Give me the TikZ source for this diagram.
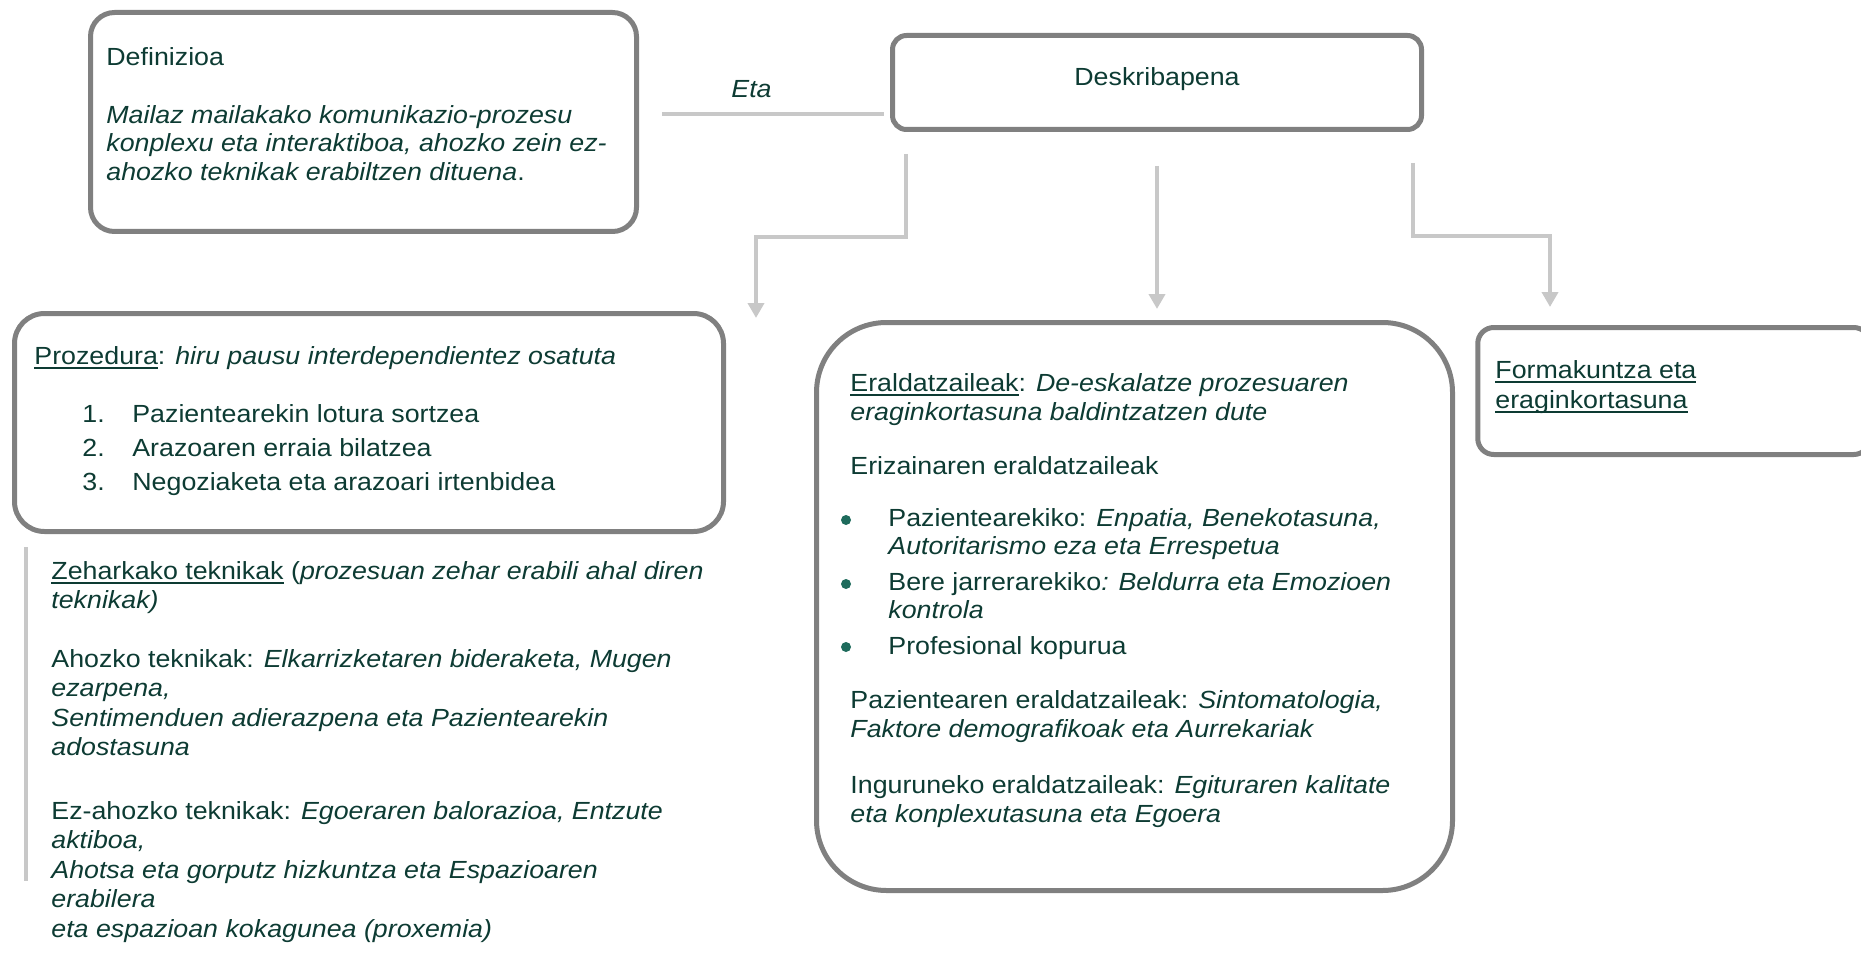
\documentclass[tikz,border=0pt]{standalone}
\usepackage{fontspec}
\setmainfont[FakeStretch=1.08]{Liberation Sans}
\usetikzlibrary{arrows.meta,positioning}
\definecolor{ink}{HTML}{0D3B33}
\definecolor{framegray}{HTML}{808080}
\definecolor{wiregray}{HTML}{C8C8C8}
\definecolor{dotgreen}{HTML}{1E6B5C}
\newcommand{\undl}[1]{\setbox0\hbox{#1}\rlap{\rule[-2.4pt]{\wd0}{0.9pt}}\box0\relax}

\begin{document}
\begin{tikzpicture}[x=0.5pt,y=-0.5pt,font=\fontsize{12.4}{14.5}\selectfont]
            \tikzstyle{frame box}=[draw=framegray,line width=2.5pt,inner sep=0]
            \tikzstyle{wire}=[draw=wiregray,line width=2pt]
            \tikzstyle{wire arrow}=[wire,-{Triangle[width=8pt,length=7.5pt]}]
            \tikzstyle{txt}=[inner sep=0,anchor=north west,align=left,text=ink]
            \tikzstyle{dot}=[circle,fill=dotgreen,inner sep=0,minimum size=5pt]
            \useasboundingbox (0,0) rectangle (1861,957);
            % boxes
            \node[frame box,rounded corners=12pt,minimum width=273pt,minimum height=109.5pt] (def) at (363.5,122) {};
            \node[frame box,rounded corners=7pt,minimum width=264.5pt,minimum height=47pt] (desk) at (1157,82.5) {};
            \node[frame box,rounded corners=15pt,minimum width=354.5pt,minimum height=109pt] (proz) at (369,422.5) {};
            \node[frame box,rounded corners=35pt,minimum width=318pt,minimum height=284pt] (eral) at (1134.5,606.5) {};
            \node[frame box,rounded corners=8pt,minimum width=196pt,minimum height=63.5pt] (form) at (1673.75,391) {};
            % Definizioa
            \node[txt] (defhead) at (106,47) {Definizioa};
            \node[txt,font=\fontsize{12.4}{14.25}\selectfont\itshape] (deftext) at (106,105)
              {Mailaz mailakako komunikazio-prozesu\\ konplexu eta interaktiboa, ahozko zein ez-\\ ahozko teknikak erabiltzen dituena{\upshape .}};
            \node[txt,font=\fontsize{12.4}{14.5}\selectfont\itshape] (eta) at (731,80) {Eta};
            \node[text=ink,anchor=base] (deskt) at (1157,86) {Deskribapena};
            % Prozedura
            \node[txt] (prozh) at (34,346) {\undl{Prozedura}: \textit{hiru pausu interdependientez osatuta}};
            \node[txt,font=\fontsize{12.4}{17}\selectfont] (steps) at (82,404)
              {\makebox[25pt][l]{1.}Pazientearekin lotura sortzea\\
               \makebox[25pt][l]{2.}Arazoaren erraia bilatzea\\
               \makebox[25pt][l]{3.}Negoziaketa eta arazoari irtenbidea};
            % Zeharkako teknikak
            \coordinate (zt) at (26,547);
            \coordinate (zb) at (26,881);
            \draw[wire] (zt) -- (zb);
            \node[txt,font=\fontsize{12.4}{14.75}\selectfont] (zeh) at (51,561)
              {\undl{Zeharkako teknikak} (\textit{prozesuan zehar erabili ahal diren}\\
               \textit{teknikak)}\\[14.5pt]
               Ahozko teknikak: \textit{Elkarrizketaren bideraketa, Mugen}\\
               \textit{ezarpena,}\\
               \textit{Sentimenduen adierazpena eta Pazientearekin}\\
               \textit{adostasuna}\\[17pt]
               Ez-ahozko teknikak: \textit{Egoeraren balorazioa, Entzute}\\
               \textit{aktiboa,}\\
               \textit{Ahotsa eta gorputz hizkuntza eta Espazioaren}\\
               \textit{erabilera}\\
               \textit{eta espazioan kokagunea (proxemia)}};
            % Eraldatzaileak
            \node[txt] (eralh) at (850,373)
              {\undl{Eraldatzaileak}: \textit{De-eskalatze prozesuaren}\\ \textit{eraginkortasuna baldintzatzen dute}};
            \node[txt] (eriz) at (850,456) {Erizainaren eraldatzaileak};
            \node[txt,font=\fontsize{12.4}{14}\selectfont] (items) at (888,508)
              {Pazientearekiko: \textit{Enpatia, Benekotasuna,}\\
               \textit{Autoritarismo eza eta Errespetua}\\[4pt]
               Bere jarrerarekiko\textit{: Beldurra eta Emozioen}\\
               \textit{kontrola}\\[4pt]
               Profesional kopurua};
            \node[dot] (d1) at (846,520) {};
            \node[dot] (d2) at (846,584) {};
            \node[dot] (d3) at (846,647) {};
            \node[txt] (paz) at (850,690)
              {Pazientearen eraldatzaileak: \textit{Sintomatologia,}\\ \textit{Faktore demografikoak eta Aurrekariak}};
            \node[txt] (ing) at (850,775)
              {Inguruneko eraldatzaileak: \textit{Egituraren kalitate}\\ \textit{eta konplexutasuna eta Egoera}};
            % Formakuntza
            \node[txt,font=\fontsize{12.4}{15}\selectfont] (formt) at (1495,360) {\undl{Formakuntza eta}\\ \undl{eraginkortasuna}};
            % connectors
            \coordinate (etaA) at (662,114);
            \coordinate (etaB) at (884,114);
            \draw[wire] (etaA) -- (etaB);
            \coordinate (l0) at (906,154);
            \coordinate (l1) at (756,318);
            \draw[wire arrow] (l0) -- ++(0,83) -| (l1);
            \coordinate (m0) at (1157,166);
            \coordinate (m1) at (1157,309);
            \draw[wire arrow] (m0) -- (m1);
            \coordinate (r0) at (1413,163);
            \coordinate (r1) at (1550,307);
            \draw[wire arrow] (r0) -- ++(0,73) -| (r1);
          \end{tikzpicture}
\end{document}
